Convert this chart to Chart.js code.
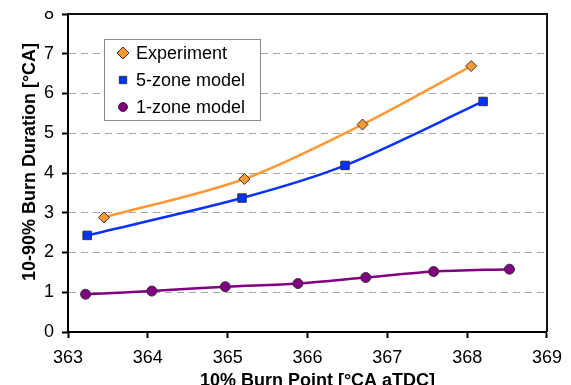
<!DOCTYPE html>
<html>
<head>
<meta charset="utf-8">
<script src="https://cdn.jsdelivr.net/npm/chart.js@4.4.1/dist/chart.umd.min.js"></script>
<style>
  html, body { margin: 0; padding: 0; background: #fff; overflow: hidden; }
  #clip { position: absolute; left: 0; top: 11px; width: 571px; height: 374px; overflow: hidden; }
  #wrap { position: absolute; left: 0; top: -19px; width: 571px; height: 400px; }
</style>
</head>
<body>
<div id="clip"><div id="wrap"><canvas id="chart"></canvas></div></div>
<script>
"use strict";

// burn point (x) and 10-90% burn duration (y) for each series
const expX = [363.45, 365.21, 366.69, 368.05];
const expY = [2.88, 3.85, 5.22, 6.69];
const zone5X = [363.24, 365.18, 366.47, 368.20];
const zone5Y = [2.43, 3.37, 4.19, 5.80];
const zone1X = [363.22, 364.05, 364.97, 365.88, 366.73, 367.58, 368.53];
const zone1Y = [0.95, 1.03, 1.14, 1.22, 1.37, 1.52, 1.58];

const seriesNames = ['Experiment', '5-zone model', '1-zone model'];
const xTitle = '10% Burn Point [°CA aTDC]';
const yTitle = '10-90% Burn Duration [°CA]';

const FONT = '"Liberation Sans", Arial, sans-serif';

// zip x and y arrays into {x, y} points
function toPoints(xs, ys) {
  let pts = [];
  for (let i = 0; i < xs.length; i++) {
    pts.push({ x: xs[i], y: ys[i] });
  }
  return pts;
}

function series(label, xs, ys, color, fill, style, radius) {
  return {
    label: label,
    data: toPoints(xs, ys),
    showLine: true,
    borderColor: color,
    borderWidth: 2.5,
    tension: 0.3,
    pointStyle: style,
    pointRadius: radius,
    pointBackgroundColor: fill,
    pointBorderColor: '#333',
    pointBorderWidth: 1
  };
}

// frame, axis titles and the boxed legend inside the plot
const extras = {
  id: 'extras',
  afterDraw(chart) {
    const ctx = chart.ctx;
    const a = chart.chartArea;
    ctx.save();

    ctx.strokeStyle = '#111';
    ctx.lineWidth = 2;
    ctx.beginPath();
    ctx.moveTo(a.left, a.top);
    ctx.lineTo(a.right, a.top);
    ctx.lineTo(a.right, a.bottom);
    ctx.stroke();

    ctx.fillStyle = '#000';
    ctx.font = 'bold 18px ' + FONT;
    ctx.textAlign = 'center';
    ctx.textBaseline = 'middle';
    ctx.fillText(xTitle, (a.left + a.right) / 2 + 10, a.bottom + 49);
    ctx.save();
    ctx.translate(30, (a.top + a.bottom) / 2 - 11);
    ctx.rotate(-Math.PI / 2);
    ctx.fillText(yTitle, 0, 0);
    ctx.restore();

    // legend
    const bx = a.left + 36, by = a.top + 25, bw = 156, bh = 81;
    ctx.fillStyle = '#fff';
    ctx.fillRect(bx, by, bw, bh);
    ctx.strokeStyle = '#8a8a8a';
    ctx.lineWidth = 1;
    ctx.strokeRect(bx + 0.5, by + 0.5, bw, bh);

    const sizes = [6, 5.2, 4.5];
    chart.data.datasets.forEach((ds, i) => {
      const cy = by + 14 + i * 27;
      ctx.fillStyle = ds.pointBackgroundColor;
      ctx.strokeStyle = ds.pointBorderColor;
      ctx.lineWidth = 1;
      Chart.helpers.drawPoint(ctx, {
        pointStyle: ds.pointStyle, radius: sizes[i], borderWidth: 1, rotation: 0
      }, bx + 19, cy);
      ctx.fillStyle = '#000';
      ctx.font = '18px ' + FONT;
      ctx.textAlign = 'left';
      ctx.fillText(ds.label, bx + 32, cy + 1);
    });

    ctx.restore();
  }
};

const chart = new Chart(document.getElementById('chart'), {
  type: 'scatter',
  data: {
    datasets: [
      series(seriesNames[0], expX, expY, '#ff9933', '#ff9933', 'rectRot', 5.5),
      series(seriesNames[1], zone5X, zone5Y, '#0a32ff', '#0033ff', 'rect', 6),
      series(seriesNames[2], zone1X, zone1Y, '#800080', '#800080', 'circle', 5)
    ]
  },
  options: {
    responsive: true,
    maintainAspectRatio: false,
    animation: false,
    layout: { padding: { top: 22, right: 16, left: 0, bottom: 0 } },
    plugins: {
      legend: { display: false },
      tooltip: { enabled: false }
    },
    scales: {
      x: {
        type: 'linear',
        min: 363,
        max: 369,
        ticks: { stepSize: 1, color: '#000', padding: 9, font: { size: 18, family: FONT } },
        grid: { drawOnChartArea: false, tickLength: 6, tickColor: '#000', tickWidth: 2 },
        border: { color: '#000', width: 2 },
        afterFit: (s) => { s.height = 60; }
      },
      y: {
        min: 0,
        max: 8,
        ticks: { stepSize: 1, color: '#000', padding: 8, font: { size: 18, family: FONT } },
        grid: { color: '#a6a6a6', lineWidth: 1, tickLength: 6, tickColor: '#000', tickWidth: 2, tickBorderDash: [] },
        border: { color: '#000', width: 2, dash: [7, 5] },
        afterFit: (s) => { s.width = 68; }
      }
    }
  },
  plugins: [extras]
});
</script>
</body>
</html>
